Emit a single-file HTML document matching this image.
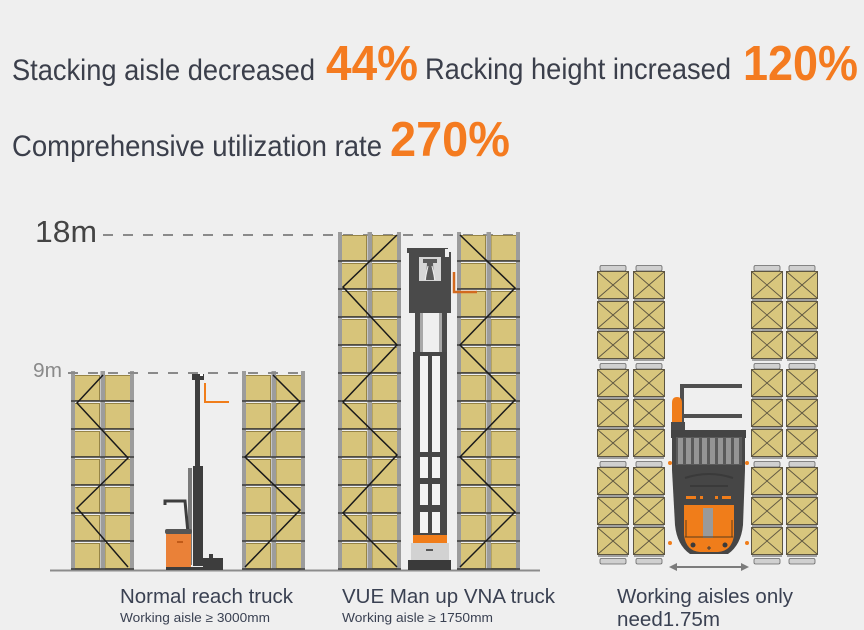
<!DOCTYPE html>
<html><head><meta charset="utf-8"><style>
html,body{margin:0;padding:0;background:#efefef;}
svg{display:block;}
text{font-family:"Liberation Sans",Arial,sans-serif;}
</style></head><body>
<svg width="864" height="630" viewBox="0 0 864 630" xmlns="http://www.w3.org/2000/svg">
<defs>
  <g id="lv">
    <rect x="3.5" y="1.5" width="25" height="25" fill="#d7c47a" stroke="#968446" stroke-width="1"/>
    <rect x="34" y="1.5" width="25.5" height="25" fill="#d7c47a" stroke="#968446" stroke-width="1"/>
  </g>
  <g id="bx">
    <rect x="0.5" y="0.5" width="31" height="27" fill="#d8c67d" stroke="#5d5540" stroke-width="1"/>
    <path d="M1,1 L31,27 M31,1 L1,27" stroke="#5d5540" stroke-width="0.9"/>
    <rect x="1" y="28" width="30" height="2" fill="#a0a0a0"/>
  </g>
  <g id="cap">
    <rect x="3" y="0.5" width="26" height="5.5" rx="1.5" fill="#d0d0d0" stroke="#666" stroke-width="0.8"/>
  </g>
</defs>

<rect width="864" height="630" fill="#efefef"/>

<!-- Header text -->
<text x="12" y="80" font-size="30" fill="#3b3f4b" textLength="303" lengthAdjust="spacingAndGlyphs">Stacking aisle decreased</text>
<text x="326" y="80" font-size="49" font-weight="bold" fill="#f47b20" textLength="92" lengthAdjust="spacingAndGlyphs">44%</text>
<text x="425" y="79" font-size="30" fill="#3b3f4b" textLength="306" lengthAdjust="spacingAndGlyphs">Racking height increased</text>
<text x="743" y="80" font-size="49" font-weight="bold" fill="#f47b20" textLength="115" lengthAdjust="spacingAndGlyphs">120%</text>
<text x="12" y="156" font-size="30" fill="#3b3f4b" textLength="370" lengthAdjust="spacingAndGlyphs">Comprehensive utilization rate</text>
<text x="390" y="156" font-size="49" font-weight="bold" fill="#f47b20" textLength="120" lengthAdjust="spacingAndGlyphs">270%</text>

<!-- height labels -->
<text x="35" y="242" font-size="31" fill="#444" textLength="62" lengthAdjust="spacingAndGlyphs">18m</text>
<line x1="103" y1="235" x2="520" y2="235" stroke="#8a8a8a" stroke-width="2" stroke-dasharray="10 10"/>
<text x="33" y="377" font-size="20" fill="#8a8a8a" textLength="29" lengthAdjust="spacingAndGlyphs">9m</text>

<!-- ground line -->
<line x1="50" y1="570.5" x2="540" y2="570.5" stroke="#8c8c8c" stroke-width="2"/>

<!-- Rack A -->
<g transform="translate(71,0)">
  <use href="#lv" y="374"/><use href="#lv" y="402"/><use href="#lv" y="430"/><use href="#lv" y="458"/><use href="#lv" y="486"/><use href="#lv" y="514"/><use href="#lv" y="542"/>
  <rect x="0" y="371" width="4" height="199" fill="#9c9c9c"/>
  <rect x="29.5" y="371" width="4.5" height="199" fill="#9c9c9c"/>
  <rect x="59" y="371" width="4" height="199" fill="#9c9c9c"/>
  <g stroke="#3a3a3a" stroke-width="1.6">
    <line x1="0" y1="401" x2="63" y2="401"/><line x1="0" y1="429" x2="63" y2="429"/><line x1="0" y1="457" x2="63" y2="457"/><line x1="0" y1="485" x2="63" y2="485"/><line x1="0" y1="513" x2="63" y2="513"/><line x1="0" y1="541" x2="63" y2="541"/><line x1="0" y1="569" x2="63" y2="569"/>
  </g>
</g>
<polyline points="103,375 77,403 128,458 77,508 128,567" fill="none" stroke="#1a1a1a" stroke-width="1.5"/>

<!-- Rack B -->
<g transform="translate(242,0)">
  <use href="#lv" y="374"/><use href="#lv" y="402"/><use href="#lv" y="430"/><use href="#lv" y="458"/><use href="#lv" y="486"/><use href="#lv" y="514"/><use href="#lv" y="542"/>
  <rect x="0" y="371" width="4" height="199" fill="#9c9c9c"/>
  <rect x="29.5" y="371" width="4.5" height="199" fill="#9c9c9c"/>
  <rect x="59" y="371" width="4" height="199" fill="#9c9c9c"/>
  <g stroke="#3a3a3a" stroke-width="1.6">
    <line x1="0" y1="401" x2="63" y2="401"/><line x1="0" y1="429" x2="63" y2="429"/><line x1="0" y1="457" x2="63" y2="457"/><line x1="0" y1="485" x2="63" y2="485"/><line x1="0" y1="513" x2="63" y2="513"/><line x1="0" y1="541" x2="63" y2="541"/><line x1="0" y1="569" x2="63" y2="569"/>
  </g>
</g>
<polyline points="273,375 300,402 245,457 300,510 245,567" fill="none" stroke="#1a1a1a" stroke-width="1.5"/>

<!-- 9m dashed (drawn over racks) -->
<line x1="68" y1="373" x2="302" y2="373" stroke="#8a8a8a" stroke-width="2" stroke-dasharray="10 10"/>

<!-- Reach truck -->
<g>
  <rect x="188" y="468" width="4" height="97" fill="#7a7a7a"/>
  <rect x="195" y="378" width="5" height="92" fill="#3d3d3d"/>
  <rect x="193" y="466" width="10" height="100" fill="#3d3d3d"/>
  <rect x="192" y="374" width="12" height="6" fill="#3d3d3d"/>
  <rect x="200" y="374" width="3" height="2" fill="#fff"/>
  <polyline points="205,383 205,402 229,402" fill="none" stroke="#f07d1a" stroke-width="2"/>
  <polyline points="165,505 165,501 185,501 188,533" fill="none" stroke="#3d3d3d" stroke-width="3"/>
  <rect x="166" y="533" width="25" height="37" fill="#ea8138"/>
  <rect x="165" y="529" width="27" height="5" rx="2" fill="#555"/>
  <rect x="177" y="541" width="6" height="2" fill="#c05a18"/>
  <rect x="203" y="558" width="20" height="11" fill="#3d3d3d"/>
  <rect x="209" y="554" width="4" height="5" fill="#3d3d3d"/>
  <rect x="166" y="567" width="57" height="3" fill="#3d3d3d"/>
</g>

<!-- Rack C -->
<g transform="translate(338,0)">
  <use href="#lv" y="234"/><use href="#lv" y="262"/><use href="#lv" y="290"/><use href="#lv" y="318"/><use href="#lv" y="346"/><use href="#lv" y="374"/><use href="#lv" y="402"/><use href="#lv" y="430"/><use href="#lv" y="458"/><use href="#lv" y="486"/><use href="#lv" y="514"/><use href="#lv" y="542"/>
  <rect x="0" y="232" width="4" height="338" fill="#9c9c9c"/>
  <rect x="29.5" y="232" width="4.5" height="338" fill="#9c9c9c"/>
  <rect x="59" y="232" width="4" height="338" fill="#9c9c9c"/>
  <g stroke="#3a3a3a" stroke-width="1.6">
    <line x1="0" y1="261" x2="63" y2="261"/><line x1="0" y1="289" x2="63" y2="289"/><line x1="0" y1="317" x2="63" y2="317"/><line x1="0" y1="345" x2="63" y2="345"/><line x1="0" y1="373" x2="63" y2="373"/><line x1="0" y1="401" x2="63" y2="401"/><line x1="0" y1="429" x2="63" y2="429"/><line x1="0" y1="457" x2="63" y2="457"/><line x1="0" y1="485" x2="63" y2="485"/><line x1="0" y1="513" x2="63" y2="513"/><line x1="0" y1="541" x2="63" y2="541"/><line x1="0" y1="569" x2="63" y2="569"/>
  </g>
</g>
<polyline points="397,235 343,287 397,345 343,402 397,455 343,513 397,567" fill="none" stroke="#1a1a1a" stroke-width="1.5"/>

<!-- Rack D -->
<g transform="translate(457,0)">
  <use href="#lv" y="234"/><use href="#lv" y="262"/><use href="#lv" y="290"/><use href="#lv" y="318"/><use href="#lv" y="346"/><use href="#lv" y="374"/><use href="#lv" y="402"/><use href="#lv" y="430"/><use href="#lv" y="458"/><use href="#lv" y="486"/><use href="#lv" y="514"/><use href="#lv" y="542"/>
  <rect x="0" y="232" width="4" height="338" fill="#9c9c9c"/>
  <rect x="29.5" y="232" width="4.5" height="338" fill="#9c9c9c"/>
  <rect x="59" y="232" width="4" height="338" fill="#9c9c9c"/>
  <g stroke="#3a3a3a" stroke-width="1.6">
    <line x1="0" y1="261" x2="63" y2="261"/><line x1="0" y1="289" x2="63" y2="289"/><line x1="0" y1="317" x2="63" y2="317"/><line x1="0" y1="345" x2="63" y2="345"/><line x1="0" y1="373" x2="63" y2="373"/><line x1="0" y1="401" x2="63" y2="401"/><line x1="0" y1="429" x2="63" y2="429"/><line x1="0" y1="457" x2="63" y2="457"/><line x1="0" y1="485" x2="63" y2="485"/><line x1="0" y1="513" x2="63" y2="513"/><line x1="0" y1="541" x2="63" y2="541"/><line x1="0" y1="569" x2="63" y2="569"/>
  </g>
</g>
<polyline points="460,235 515,288 460,345 515,400 460,457 515,512 460,567" fill="none" stroke="#1a1a1a" stroke-width="1.5"/>

<!-- VNA truck -->
<g>
  <rect x="415" y="312" width="5" height="42" fill="#4a4a4a"/>
  <rect x="420" y="312" width="3" height="42" fill="#a8a8a8"/>
  <rect x="442" y="312" width="5" height="42" fill="#4a4a4a"/>
  <rect x="439" y="312" width="3" height="42" fill="#a8a8a8"/>
  <rect x="413" y="352" width="34" height="184" fill="#474747"/>
  <rect x="420" y="356" width="8" height="96" fill="#f4f4f4"/>
  <rect x="432" y="356" width="8" height="96" fill="#f4f4f4"/>
  <rect x="420" y="457" width="8" height="21" fill="#f4f4f4"/>
  <rect x="432" y="457" width="8" height="21" fill="#f4f4f4"/>
  <rect x="420" y="484" width="8" height="21" fill="#f4f4f4"/>
  <rect x="432" y="484" width="8" height="21" fill="#f4f4f4"/>
  <rect x="420" y="512" width="8" height="21" fill="#f4f4f4"/>
  <rect x="432" y="512" width="8" height="21" fill="#f4f4f4"/>
  <rect x="413" y="535" width="34" height="8" fill="#f07d1a"/>
  <rect x="411" y="543" width="38" height="17" fill="#d2d2d2"/>
  <rect x="426" y="549" width="7" height="2" fill="#555"/>
  <rect x="408" y="560" width="43" height="10" fill="#3a3a3a"/>
  <rect x="407" y="248" width="41" height="5" fill="#4a4a4a"/>
  <rect x="409" y="252" width="42" height="61" fill="#4a4a4a"/>
  <rect x="445" y="249" width="4" height="8" fill="#efefef"/>
  <rect x="419" y="257" width="22" height="24" fill="#d6d6d6"/>
  <path d="M423,259 H437 V263 H433 L434,280 H426 L427,263 H423 Z" fill="#5a5a5a"/>
  <path d="M428,266 L425,280 M432,266 L435,280" stroke="#eee" stroke-width="1"/>
  <polyline points="454,272 454,292 477,292" fill="none" stroke="#d2691e" stroke-width="2.5"/>
</g>

<!-- Right racks -->
<g>
  <use href="#cap" x="597" y="265"/><use href="#cap" x="633" y="265"/><use href="#cap" x="751" y="265"/><use href="#cap" x="786" y="265"/>
  <use href="#cap" x="597" y="363"/><use href="#cap" x="633" y="363"/><use href="#cap" x="751" y="363"/><use href="#cap" x="786" y="363"/>
  <use href="#cap" x="597" y="461"/><use href="#cap" x="633" y="461"/><use href="#cap" x="751" y="461"/><use href="#cap" x="786" y="461"/>
  <use href="#cap" x="597" y="558"/><use href="#cap" x="633" y="558"/><use href="#cap" x="751" y="558"/><use href="#cap" x="786" y="558"/>
  <use href="#bx" x="597" y="271"/><use href="#bx" x="597" y="301"/><use href="#bx" x="597" y="331"/>
  <use href="#bx" x="597" y="369"/><use href="#bx" x="597" y="399"/><use href="#bx" x="597" y="429"/>
  <use href="#bx" x="597" y="467"/><use href="#bx" x="597" y="497"/><use href="#bx" x="597" y="527"/>
  <use href="#bx" x="633" y="271"/><use href="#bx" x="633" y="301"/><use href="#bx" x="633" y="331"/>
  <use href="#bx" x="633" y="369"/><use href="#bx" x="633" y="399"/><use href="#bx" x="633" y="429"/>
  <use href="#bx" x="633" y="467"/><use href="#bx" x="633" y="497"/><use href="#bx" x="633" y="527"/>
  <use href="#bx" x="751" y="271"/><use href="#bx" x="751" y="301"/><use href="#bx" x="751" y="331"/>
  <use href="#bx" x="751" y="369"/><use href="#bx" x="751" y="399"/><use href="#bx" x="751" y="429"/>
  <use href="#bx" x="751" y="467"/><use href="#bx" x="751" y="497"/><use href="#bx" x="751" y="527"/>
  <use href="#bx" x="786" y="271"/><use href="#bx" x="786" y="301"/><use href="#bx" x="786" y="331"/>
  <use href="#bx" x="786" y="369"/><use href="#bx" x="786" y="399"/><use href="#bx" x="786" y="429"/>
  <use href="#bx" x="786" y="467"/><use href="#bx" x="786" y="497"/><use href="#bx" x="786" y="527"/>
</g>

<!-- Top-view forklift -->
<g>
  <rect x="682" y="384" width="60" height="4" fill="#4f4f4f"/>
  <rect x="682" y="414" width="60" height="4" fill="#4f4f4f"/>
  <rect x="680" y="384" width="4" height="48" fill="#4f4f4f"/>
  <path d="M672,422 V403 Q672,397 677,397 Q682,397 682,403 V422 Z" fill="#f07d1a"/>
  <rect x="671" y="422" width="14" height="10" fill="#4a4a4a"/>
  <rect x="671" y="430" width="75" height="8" fill="#444"/>
  <path d="M672,437 H745 V470 L743,525 Q741,545 728,554 H690 Q677,545 675,525 L672,470 Z" fill="#464646"/>
  <rect x="676" y="437" width="66" height="28" fill="#5a5a5a"/>
  <g fill="#959595">
    <rect x="678" y="438" width="5" height="26"/><rect x="686" y="438" width="5" height="26"/><rect x="694" y="438" width="5" height="26"/><rect x="702" y="438" width="5" height="26"/><rect x="710" y="438" width="5" height="26"/><rect x="718" y="438" width="5" height="26"/><rect x="726" y="438" width="5" height="26"/><rect x="734" y="438" width="5" height="26"/>
  </g>
  <path d="M685,478 Q709,470 733,478" fill="none" stroke="#3a3a3a" stroke-width="2"/>
  <path d="M690,486 H728" stroke="#3a3a3a" stroke-width="2"/>
  <g fill="#f07d1a">
    <rect x="686" y="496" width="10" height="3"/><rect x="700" y="496" width="3" height="3"/><rect x="715" y="496" width="3" height="3"/><rect x="722" y="496" width="9" height="3"/>
  </g>
  <path d="M684,505 H734 V535 Q732,551 718,552 H700 Q686,551 684,535 Z" fill="#f07d1a"/>
  <rect x="703" y="508" width="10" height="30" fill="#9a9a9a"/>
  <line x1="685" y1="537" x2="733" y2="537" stroke="#5a3a1a" stroke-width="1"/>
  <line x1="686" y1="520" x2="686" y2="537" stroke="#5a3a1a" stroke-width="1"/>
  <line x1="732" y1="520" x2="732" y2="537" stroke="#5a3a1a" stroke-width="1"/>
  <circle cx="693" cy="545" r="2.5" fill="#3a3a3a"/>
  <circle cx="725" cy="545" r="2.5" fill="#3a3a3a"/>
  <path d="M709,546 v4 M707,548 h4" stroke="#3a3a3a" stroke-width="1"/>
  <circle cx="670" cy="463" r="2" fill="#f07d1a"/>
  <circle cx="747" cy="463" r="2" fill="#f07d1a"/>
  <circle cx="670" cy="543" r="2" fill="#f07d1a"/>
  <circle cx="747" cy="543" r="2" fill="#f07d1a"/>
  <line x1="674" y1="567" x2="744" y2="567" stroke="#7c7c7c" stroke-width="2"/>
  <polygon points="669,567 677,563 677,571" fill="#7c7c7c"/>
  <polygon points="749,567 741,563 741,571" fill="#7c7c7c"/>
</g>

<!-- Bottom labels -->
<text x="120" y="603" font-size="20.5" fill="#3a4152" textLength="173" lengthAdjust="spacingAndGlyphs">Normal reach truck</text>
<text x="120" y="622" font-size="12.5" fill="#3a4152" textLength="150" lengthAdjust="spacingAndGlyphs">Working aisle ≥ 3000mm</text>
<text x="342" y="603" font-size="20.5" fill="#3a4152" textLength="213" lengthAdjust="spacingAndGlyphs">VUE Man up VNA truck</text>
<text x="342" y="622" font-size="12.5" fill="#3a4152" textLength="151" lengthAdjust="spacingAndGlyphs">Working aisle ≥ 1750mm</text>
<text x="617" y="603" font-size="20.5" fill="#3a4152" textLength="176" lengthAdjust="spacingAndGlyphs">Working aisles only</text>
<text x="617" y="626" font-size="20.5" fill="#3a4152" textLength="103" lengthAdjust="spacingAndGlyphs">need1.75m</text>
</svg>
</body></html>
